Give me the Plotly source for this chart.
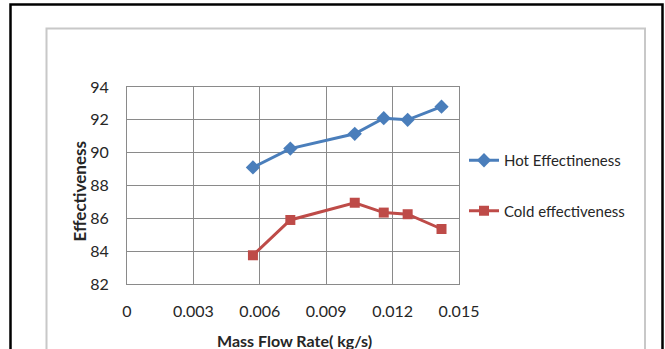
import plotly.graph_objects as go

mass_flow = [0.00569, 0.00738, 0.01029, 0.01160, 0.01268, 0.01421]
hot_eff = [89.1, 90.25, 91.15, 92.1, 92.0, 92.8]
cold_eff = [83.75, 85.9, 86.95, 86.35, 86.25, 85.35]
x_tick_vals = [0, 0.003, 0.006, 0.009, 0.012, 0.015]
x_tick_text = ["0", "0.003", "0.006", "0.009", "0.012", "0.015"]
y_tick_vals = [82, 84, 86, 88, 90, 92, 94]

W, H = 665, 349
FONT = "Lato"
BLUE = "#4a7ebb"
RED = "#be4b48"
TXT = "#262626"

fig = go.Figure()
fig.add_trace(go.Scatter(
    x=mass_flow, y=hot_eff, mode="lines+markers", name="Hot Effectineness",
    line=dict(color=BLUE, width=3),
    marker=dict(symbol="diamond", size=11, color=BLUE),
    legendgroup="hot",
))
fig.add_trace(go.Scatter(
    x=mass_flow, y=cold_eff, mode="lines+markers", name="Cold effectiveness",
    line=dict(color=RED, width=3),
    marker=dict(symbol="square", size=10, color=RED),
    legendgroup="cold",
))

fig.update_layout(
    width=W, height=H,
    margin=dict(l=127, r=W - 459, t=87, b=H - 284, autoexpand=False),
    paper_bgcolor="white", plot_bgcolor="white",
    font=dict(family=FONT, size=13, color=TXT),
    showlegend=True,
    legend=dict(xref="paper", yref="paper", x=(464 - 127) / 332, y=(284 - 144) / 197,
                xanchor="left", yanchor="top", bgcolor="rgba(0,0,0,0)",
                traceorder="grouped", tracegroupgap=28,
                font=dict(family=FONT, size=15, color=TXT)),
)
fig.update_xaxes(
    range=[0, 0.015], tickvals=x_tick_vals, ticktext=x_tick_text,
    showgrid=True, gridcolor="#8a8a8a", gridwidth=1,
    showline=True, linecolor="#8a8a8a", mirror=True, zeroline=False,
    ticks="", ticklabelstandoff=13,
    tickfont=dict(family=FONT, size=16, color=TXT),
)
fig.update_yaxes(
    range=[82, 94], tickvals=y_tick_vals,
    showgrid=True, gridcolor="#8a8a8a", gridwidth=1,
    showline=True, linecolor="#8a8a8a", mirror=True, zeroline=False,
    ticks="", ticklabelstandoff=14,
    tickfont=dict(family=FONT, size=16, color=TXT),
)

# axis titles
fig.add_annotation(text="<b>Mass Flow Rate( kg/s)</b>", xref="paper", yref="paper",
                   x=(294.5 - 127) / 332, y=-(340 - 284) / 197, showarrow=False,
                   xanchor="center", yanchor="middle",
                   font=dict(family=FONT, size=16, color=TXT))
fig.add_annotation(text="<b>Effectiveness</b>", xref="paper", yref="paper",
                   x=-(127 - 79) / 332, y=(284 - 191.5) / 197, showarrow=False,
                   textangle=-90, xanchor="center", yanchor="middle",
                   font=dict(family=FONT, size=17, color=TXT))

# frames
fig.add_shape(type="rect", xref="paper", yref="paper",
              x0=-(127 - 10.5) / 332, x1=(662.5 - 127) / 332,
              y0=-(360 - 284) / 197, y1=(284 - 4.5) / 197,
              line=dict(color="black", width=2.5))
fig.add_shape(type="rect", xref="paper", yref="paper",
              x0=-(127 - 46.5) / 332, x1=(645 - 127) / 332,
              y0=-(360 - 284) / 197, y1=(284 - 28.5) / 197,
              line=dict(color="#c8c8c8", width=2))

fig.write_html("out.html")
